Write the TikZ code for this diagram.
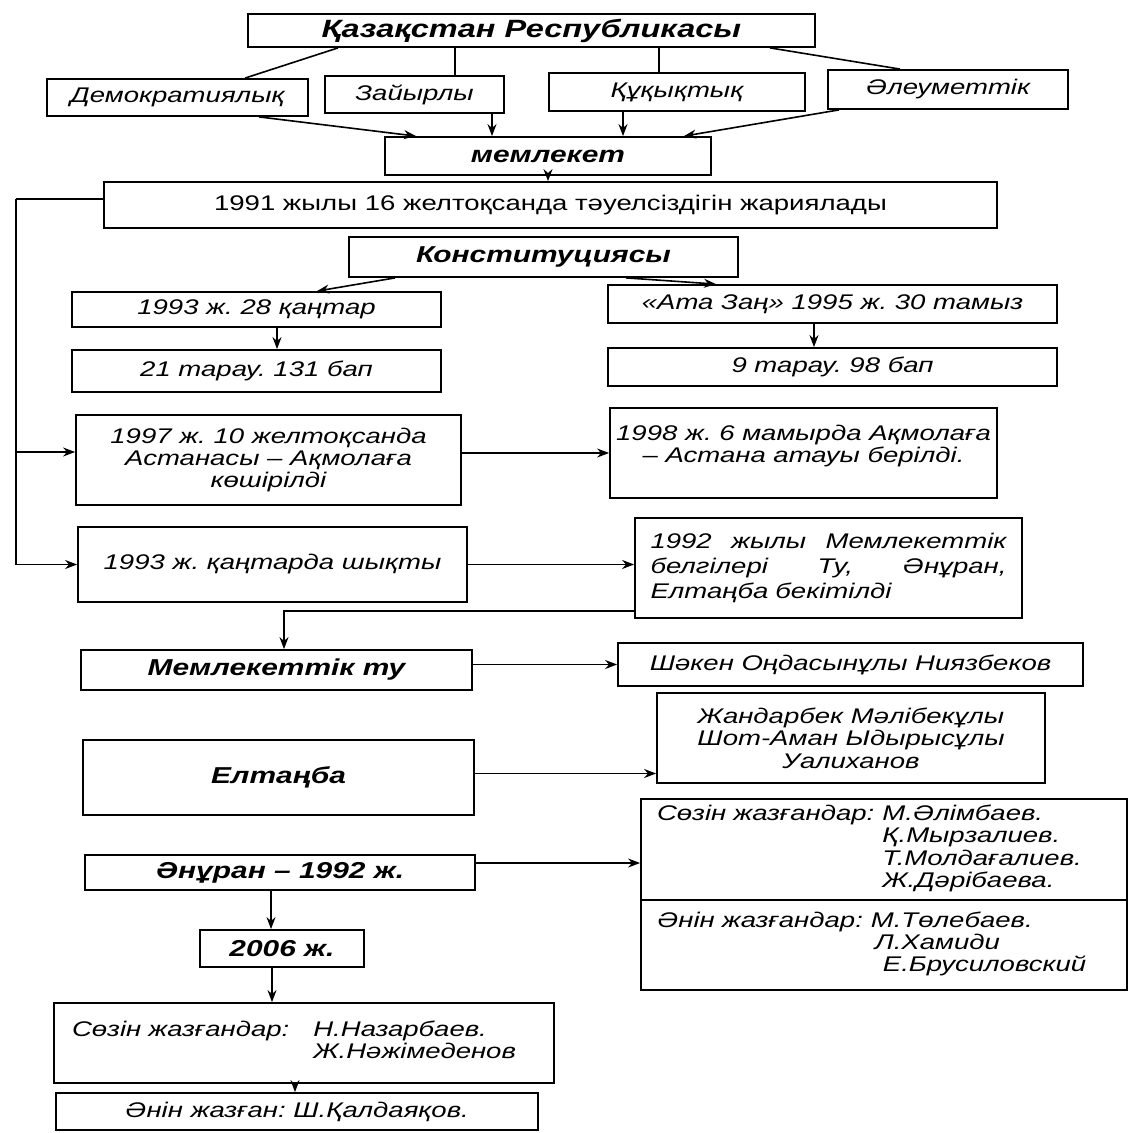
\documentclass[tikz,border=0pt]{standalone}
\usepackage{fontspec}
\setmainfont{Liberation Sans}[FakeStretch=1.3]
\usetikzlibrary{arrows.meta}
\frenchspacing
\newcommand\myfn{\fontsize{10.6}{11.2}\selectfont}
\newcommand\myfb{\fontsize{11.5}{12.5}\selectfont\bfseries\itshape}
\begin{document}
\begin{tikzpicture}[x=0.5pt,y=-0.5pt,
  box/.style={draw, line width=0.9pt, inner sep=2pt, align=center, font=\myfn\itshape},
  bbox/.style={box, font=\myfb},
  sz/.style 2 args={minimum width=#1*0.5pt, minimum height=#2*0.5pt},
  arr/.style={-{Stealth[length=6pt,width=4.5pt]}, line width=0.8pt},
  ln/.style={line width=0.8pt}]
\useasboundingbox (0,0) rectangle (1129,1133);
% nodes
\node[bbox, sz={567}{33}, font=\fontsize{12.5}{13}\selectfont\bfseries\itshape] (top) at (531.5,30.5) {Қазақстан Республикасы};
\node[box, sz={261}{37}] (dem) at (177.5,97.5) {Демократиялық};
\node[box, sz={179}{37}] (zay) at (414.5,94.5) {Зайырлы};
\node[box, sz={256}{38}] (kuk) at (677,92) {Құқықтық};
\node[box, sz={240}{39}] (ale) at (948,89.5) {Әлеуметтік};
\node[bbox, sz={326}{38}] (mem) at (548,156) {мемлекет};
\node[box, sz={893}{46}, font=\myfn] (decl) at (550.5,205) {1991 жылы 16 желтоқсанда тәуелсіздігін жариялады};
\node[bbox, sz={389}{40}] (konst) at (543.5,257) {Конституциясы};
\node[box, sz={369}{35}] (qan) at (256.5,309.5) {1993 ж. 28 қаңтар};
\node[box, sz={449}{38}] (ata) at (832.5,304) {«Ата Заң» 1995 ж. 30 тамыз};
\node[box, sz={369}{42}] (tA) at (256.5,371) {21 тарау. 131 бап};
\node[box, sz={449}{38}] (tB) at (832.5,367) {9 тарау. 98 бап};
\node[box, sz={385}{90}] (nA) at (268.5,460) {1997 ж. 10 желтоқсанда\\Астанасы – Ақмолаға\\көшірілді};
\node[box, sz={387}{90}] (nB) at (803.5,453) {1998 ж. 6 мамырда Ақмолаға\\– Астана атауы берілді.\\[-2pt]};
\node[box, sz={389}{75}] (shy) at (272.5,564.5) {1993 ж. қаңтарда шықты};
\node[box, sz={387}{100}, text width=178pt, inner xsep=7.75pt, align=left, font=\fontsize{10.6}{12.5}\selectfont\itshape] (bel) at (828.5,568)
  {\leavevmode\hbox to 178pt{1992\hfill жылы\hfill Мемлекеттік}\\
   \leavevmode\hbox to 178pt{белгілері\hfill Ту,\hfill Әнұран,}\\
   Елтаңба бекітілді\\[-6pt]};
\node[bbox, sz={391}{40}] (tu) at (276.5,670) {Мемлекеттік ту};
\node[box, sz={465}{43}] (shaken) at (850.5,664.5) {Шәкен Оңдасынұлы Ниязбеков};
\node[box, sz={388}{90}] (jand) at (851,738) {Жандарбек Мәлібекұлы\\Шот-Аман Ыдырысұлы\\Уалиханов};
\node[bbox, sz={391}{75}] (elt) at (278.5,777.5) {Елтаңба};
\node[box, sz={486}{101}, text width=227pt, inner xsep=8pt, align=left] (sozin) at (884,849.5)
  {\begin{tabular}{@{}l@{\hspace{4pt}}l@{}}
   Сөзін жазғандар: & М.Әлімбаев.\\
   & Қ.Мырзалиев.\\
   & Т.Молдағалиев.\\
   & Ж.Дәрібаева.
   \end{tabular}};
\node[box, sz={486}{90}, text width=227pt, inner xsep=8pt, align=left] (enin) at (884,945)
  {\begin{tabular}{@{}l@{\hspace{4pt}}l@{}}
   Әнін жазғандар: & М.Төлебаев.\\
   & \hspace{2pt}Л.Хамиди\\
   & \hspace{6pt}Е.Брусиловский
   \end{tabular}\\[6pt]};
\node[bbox, sz={390}{35}] (anuran) at (280,872.5) {Әнұран – 1992 ж.};
\node[bbox, sz={164}{37}] (yil) at (282,948.5) {2006 ж.};
\node[box, sz={500}{80}, text width=232pt, inner xsep=9pt, align=left] (naz) at (304,1043)
  {\begin{tabular}{@{}l@{\hspace{12pt}}l@{}}
   Сөзін жазғандар: & Н.Назарбаев.\\
   & Ж.Нәжімеденов
   \end{tabular}\\[8pt]};
\node[box, sz={482}{37}] (kald) at (297,1111.5) {Әнін жазған: Ш.Қалдаяқов.};
% connectors
\draw[ln] ([xshift=-96.75pt]top.south) -- ([xshift=33.75pt]dem.north);
\draw[ln] ([xshift=-38.25pt]top.south) -- ([xshift=20.25pt]zay.north);
\draw[ln] ([xshift=63.75pt]top.south) -- ([xshift=-9pt]kuk.north);
\draw[ln] ([xshift=119.25pt]top.south) -- ([xshift=-24pt]ale.north);
\draw[arr] ([xshift=40.75pt]dem.south) -- ([xshift=-66pt]mem.north);
\draw[arr] ([xshift=38.75pt]zay.south) -- ([xshift=-28pt]mem.north);
\draw[arr] ([xshift=-27pt]kuk.south) -- ([xshift=37.5pt]mem.north);
\draw[arr] ([xshift=-54.5pt]ale.south) -- ([xshift=68pt]mem.north);
\draw[arr] (mem.south) -- (mem.south |- decl.north);
\draw[ln] ([yshift=3pt]decl.west) -- ++(-43.5pt,0) coordinate (lc);
\draw[arr] (lc) |- ([yshift=4pt]nA.west);
\draw[arr] (lc) |- (shy.west);
\draw[arr] ([xshift=-74.25pt]konst.south) -- ([xshift=30.25pt]qan.north);
\draw[arr] ([xshift=41.25pt]konst.south) -- ([xshift=-58.25pt]ata.north);
\draw[arr] ([xshift=10.25pt]qan.south) -- ([xshift=10.25pt]tA.north);
\draw[arr] ([xshift=-9.25pt]ata.south) -- ([xshift=-9.25pt]tB.north);
\draw[arr] (nA.east |- nB.west) -- (nB.west);
\draw[arr] (shy.east) -- (shy.east -| bel.west);
\draw[arr] ([yshift=4pt]bel.south west) -| ([xshift=3.75pt]tu.north);
\draw[arr] (tu.east |- shaken.west) -- (shaken.west);
\draw[arr] ([yshift=2pt]elt.east) -- ([yshift=2pt]elt.east -| jand.west);
\draw[arr] ([yshift=4.75pt]anuran.east) -- ([yshift=4.75pt]anuran.east -| sozin.west);
\draw[arr] ([xshift=-4.5pt]anuran.south) -- ([xshift=-4.5pt]anuran.south |- yil.north);
\draw[arr] ([xshift=-5pt]yil.south) -- ([xshift=-5pt]yil.south |- naz.north);
\draw[arr] ([xshift=-4.5pt]naz.south) -- ([xshift=-4.5pt]naz.south |- kald.north);
\end{tikzpicture}
\end{document}
